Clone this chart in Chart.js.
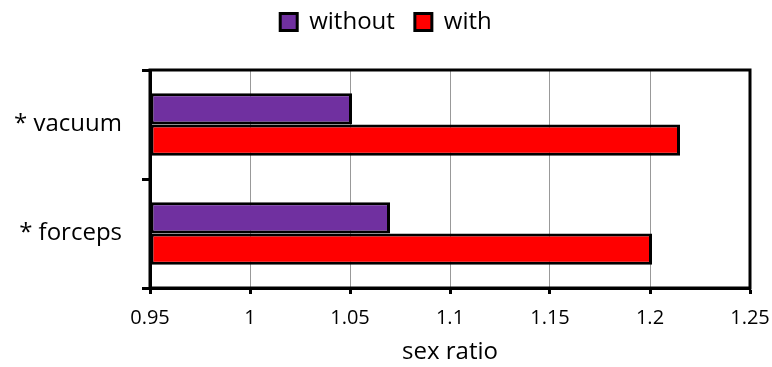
<!DOCTYPE html>
<html>
<head>
<meta charset="utf-8">
<script src="https://cdn.jsdelivr.net/npm/chart.js@4"></script>
<style>
  html, body { margin: 0; padding: 0; background: #fff; }
  #wrap { width: 772px; height: 367px; }
</style>
</head>
<body>
<div id="wrap"><canvas id="c" width="772" height="367"></canvas></div>
<script>
// chart values
var categories = ['* vacuum', '* forceps'];
var withoutValues = [1.051, 1.07];
var withValues = [1.215, 1.201];
var xTicks = [0.95, 1, 1.05, 1.1, 1.15, 1.2, 1.25];
var xMin = 0.95, xMax = 1.25;

// draws the black box round the plot area
var frame = {
  id: 'frame',
  afterDraw: function(chart) {
    var a = chart.chartArea, ctx = chart.ctx;
    ctx.save();
    ctx.strokeStyle = '#000';
    ctx.lineWidth = 3;
    ctx.strokeRect(a.left, a.top, a.right - a.left, a.bottom - a.top);
    ctx.restore();
  }
};

// extra space under the legend
var legendGap = {
  id: 'legendGap',
  beforeInit: function(chart) {
    var fit = chart.legend.fit;
    chart.legend.fit = function() {
      fit.call(this);
      this.height += 26;
    };
  }
};

Chart.defaults.font.family = '"Open Sans", sans-serif';
Chart.defaults.color = '#000';

new Chart(document.getElementById('c').getContext('2d'), {
  type: 'bar',
  data: {
    labels: categories,
    datasets: [
      {label: 'without', data: withoutValues, backgroundColor: '#7030A0'},
      {label: 'with', data: withValues, backgroundColor: '#FF0000'}
    ]
  },
  options: {
    indexAxis: 'y',
    responsive: false,
    animation: false,
    layout: {padding: {top: -10, right: 0, left: 0, bottom: 0}},
    datasets: {
      bar: {
        base: xMin,
        borderColor: '#000',
        borderWidth: 3,
        borderSkipped: false,
        categoryPercentage: 0.575,
        barPercentage: 1
      }
    },
    plugins: {
      legend: {
        position: 'top',
        labels: {
          boxWidth: 17,
          boxHeight: 17,
          padding: 20,
          font: {size: 24},
          generateLabels: function(chart) {
            return chart.data.datasets.map(function(ds, i) {
              return {text: ds.label, fillStyle: ds.backgroundColor, strokeStyle: '#000',
                      lineWidth: 3, datasetIndex: i};
            });
          }
        }
      },
      tooltip: {enabled: false}
    },
    scales: {
      x: {
        min: xMin,
        max: xMax,
        afterBuildTicks: function(scale) {
          scale.ticks = xTicks.map(function(v) { return {value: v}; });
        },
        afterFit: function(scale) {
          scale.height = 79;
          scale.paddingRight = 22;
        },
        ticks: {font: {size: 20}, padding: 12, maxRotation: 0,
                callback: function(v) { return String(v); }},
        grid: {color: '#999', lineWidth: 1, tickLength: 6, tickColor: '#000', tickWidth: 3},
        border: {color: '#000', width: 3},
        title: {display: true, text: 'sex ratio', font: {size: 24}, padding: {top: 4, bottom: 0}}
      },
      y: {
        afterFit: function(scale) { scale.width = 150; },
        ticks: {font: {size: 24}, padding: 20},
        grid: {drawOnChartArea: false, tickLength: 8, tickColor: '#000', tickWidth: 3},
        border: {color: '#000', width: 3}
      }
    }
  },
  plugins: [frame, legendGap]
});
</script>
</body>
</html>
